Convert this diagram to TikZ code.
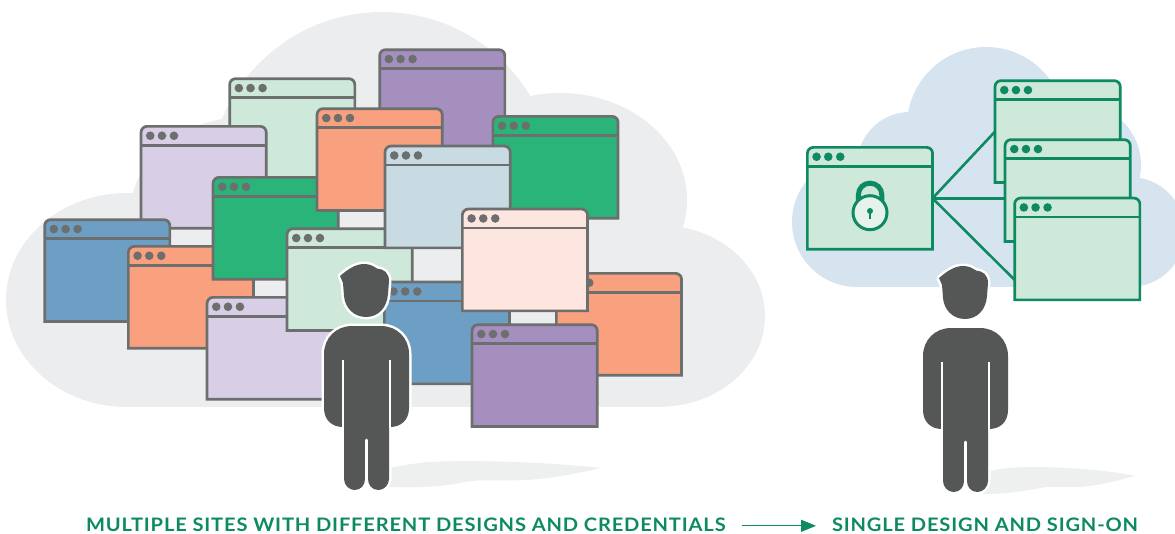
\documentclass[tikz,border=0pt]{standalone}
\usepackage{fontspec}
\setmainfont{Lato}[FakeStretch=1.08,LetterSpace=4.5]
\usetikzlibrary{arrows.meta}
\definecolor{cloudgray}{HTML}{ECEDEF}
\definecolor{cloudblue}{HTML}{D6E4EF}
\definecolor{wingray}{HTML}{6D6E6E}
\definecolor{brandgreen}{HTML}{0E8A63}
\definecolor{cpurple}{HTML}{A58FBF}
\definecolor{cmint}{HTML}{CEE8DA}
\definecolor{clav}{HTML}{D8CEE5}
\definecolor{cgreen}{HTML}{2BB479}
\definecolor{corange}{HTML}{F9A07F}
\definecolor{cslate}{HTML}{C8DAE2}
\definecolor{cblue}{HTML}{6C9FC3}
\definecolor{cpink}{HTML}{FDE6E0}
\definecolor{cshadow}{HTML}{EEF0F0}
\definecolor{cperson}{HTML}{555756}
\definecolor{clockface}{HTML}{E6F3ED}
\tikzset{
  winbox/.style={anchor=north west,inner sep=0pt,outer sep=0pt,minimum width=125.2pt,minimum height=101.8pt},
  caption/.style={inner sep=0pt,outer sep=0pt,text=brandgreen,font=\fontsize{18.6}{19}\selectfont\bfseries},
  link/.style={draw=brandgreen,line width=2.6pt},
  flow/.style={draw=brandgreen,line width=1.2pt,-{Triangle[length=15pt,width=12pt]}}
}
\newcommand{\win}[5]{%
  \node[winbox] (#1) at (#2+1.35,#3+1.35) {};
  \draw[draw=#5,fill=#4,line width=2.7pt,line join=miter]
    (#1.south west) [rounded corners=6pt] -- (#1.north west) -- (#1.north east) [sharp corners] -- (#1.south east) -- cycle;
  \draw[draw=#5,line width=2.7pt] ([yshift=-19pt]#1.north west) -- ([yshift=-19pt]#1.north east);
  \fill[#5] ([xshift=9.2pt,yshift=-9.4pt]#1.north west) circle[radius=4.3]
            ([xshift=20.9pt,yshift=-9.4pt]#1.north west) circle[radius=4.3]
            ([xshift=32.9pt,yshift=-9.4pt]#1.north west) circle[radius=4.3];
}
\newcommand{\personbody}{
  (324,354) .. controls (324,338) and (336,326) .. (352,326) -- (381,326)
  .. controls (397,326) and (409,338) .. (409,354) -- (409,408)
  .. controls (409,420) and (401,427) .. (390,427) -- (389,427) -- (389,479)
  .. controls (389,485) and (384,490) .. (378.5,490) .. controls (372,490) and (368,485) .. (368,479)
  -- (365,479) .. controls (365,485) and (361,490) .. (354.5,490)
  .. controls (349,490) and (344,485) .. (344,479)
  -- (344,427) -- (343,427) .. controls (332,427) and (324,420) .. (324,408) -- cycle}
\newcommand{\personhead}{
  (340,276) .. controls (347,270) and (355,264) .. (364,264)
  .. controls (370,264) and (373,266) .. (377,268.5)
  .. controls (384,269) and (389,273) .. (389,281) -- (388,294)
  .. controls (387,308) and (378,317) .. (366,317)
  .. controls (354,317) and (345,308) .. (344,296) -- (343,283) -- cycle}
\newcommand{\person}{%
  \draw[white,line width=5pt,line join=round] \personbody;
  \draw[white,line width=5pt,line join=round] \personhead;
  \fill[cperson] \personbody;
  \fill[cperson] \personhead;
  \draw[white,line width=2.3pt] (342.8,360) -- (342.8,428);
  \draw[white,line width=2.3pt] (390.2,360) -- (390.2,428);
  \draw[white,line width=2.6pt,line cap=round] (366.5,440) -- (366.5,480);
}
\begin{document}
\begin{tikzpicture}[x=1pt,y=-1pt]
\useasboundingbox (0,0) rectangle (1175,533);
\clip (0,0) rectangle (1175,533);
% left cloud
\fill[cloudgray] (127,300) ellipse[x radius=121,y radius=107];
\fill[cloudgray] (245,215) ellipse[x radius=115,y radius=98];
\fill[cloudgray] (382,185) circle[radius=173];
\fill[cloudgray] (560,200) ellipse[x radius=127,y radius=107];
\fill[cloudgray] (660,316) ellipse[x radius=105,y radius=90.7];
\fill[cloudgray] (127,240) rectangle (660,406.7);
% right cloud
\fill[cloudblue] (857,222) circle[radius=65];
\fill[cloudblue] (910,165) circle[radius=53];
\fill[cloudblue] (986,126) circle[radius=79];
\fill[cloudblue] (1080,165) circle[radius=61];
\fill[cloudblue] (1130,232) circle[radius=55];
\fill[cloudblue] (857,180) rectangle (1130,287);
% shadows
\fill[cshadow] (388,468) .. controls (405,465) and (420,462) .. (440,461.5)
  .. controls (490,460) and (560,463) .. (600,468)
  .. controls (580,473) and (550,479) .. (525,480)
  .. controls (500,481) and (480,479) .. (465,482)
  .. controls (440,487) and (420,488) .. (388,487) -- cycle;
\fill[cshadow] (986,472) .. controls (1000,468) and (1015,467) .. (1033,467)
  .. controls (1070,467) and (1115,471) .. (1135,476)
  .. controls (1120,480) and (1095,487) .. (1075,487)
  .. controls (1060,487) and (1050,486) .. (1040,488)
  .. controls (1020,492) and (1005,494) .. (983,494) -- cycle;
% left windows, back to front
\win{pa}{378.3}{48.3}{cpurple}{wingray}
\win{mb}{228.3}{77.3}{cmint}{wingray}
\win{lc}{139.7}{125}{clav}{wingray}
\win{gd}{491.5}{115}{cgreen}{wingray}
\win{be}{43.3}{218.3}{cblue}{wingray}
\win{of}{127}{245}{corange}{wingray}
\win{gg}{211.7}{176}{cgreen}{wingray}
\win{oh}{315.7}{107.3}{corange}{wingray}
\win{li}{205.7}{296}{clav}{wingray}
\win{mj}{285.7}{227.3}{cmint}{wingray}
\win{sk}{383.7}{144.7}{cslate}{wingray}
\win{ol}{555}{272}{corange}{wingray}
\win{bm}{383}{280.7}{cblue}{wingray}
\win{pn}{461}{207.7}{cpink}{wingray}
\win{po}{470.7}{323.3}{cpurple}{wingray}
\person
% right windows
\win{sso}{806}{146}{cmint}{brandgreen}
\win{wa}{993.7}{79.3}{cmint}{brandgreen}
\win{wb}{1003.7}{138.3}{cmint}{brandgreen}
\win{wc}{1013.3}{196.7}{cmint}{brandgreen}
\draw[link] (sso.east) -- (wa.west);
\draw[link] (sso.east) -- (sso.east -| wb.west);
\draw[link] (sso.east) -- ([yshift=-31pt]wc.west);
% lock
\draw[brandgreen,line width=5pt] (858.4,205) -- (858.4,195) .. controls (858.4,188) and (863.5,183.2) .. (870,183.2)
  .. controls (876.5,183.2) and (881.8,188) .. (881.8,195) -- (881.8,205);
\draw[brandgreen,fill=clockface,line width=3pt] (870,212.7) circle[radius=17];
\fill[brandgreen] (870,211) circle[radius=3];
\draw[brandgreen,line width=2.4pt] (870,212) -- (870,219);
% person on the right
\begin{scope}[shift={(599,2)}]
\person
\end{scope}
% captions
\node[caption,anchor=west] (capa) at (86,524.6) {MULTIPLE SITES WITH DIFFERENT DESIGNS AND CREDENTIALS};
\node[caption,anchor=west] (capb) at (832,524.6) {SINGLE DESIGN AND SIGN-ON};
\draw[flow,shorten <=16.5pt,shorten >=16pt] ([yshift=-1.2pt]capa.east) -- ([yshift=-1.2pt]capb.west);
\end{tikzpicture}
\end{document}
